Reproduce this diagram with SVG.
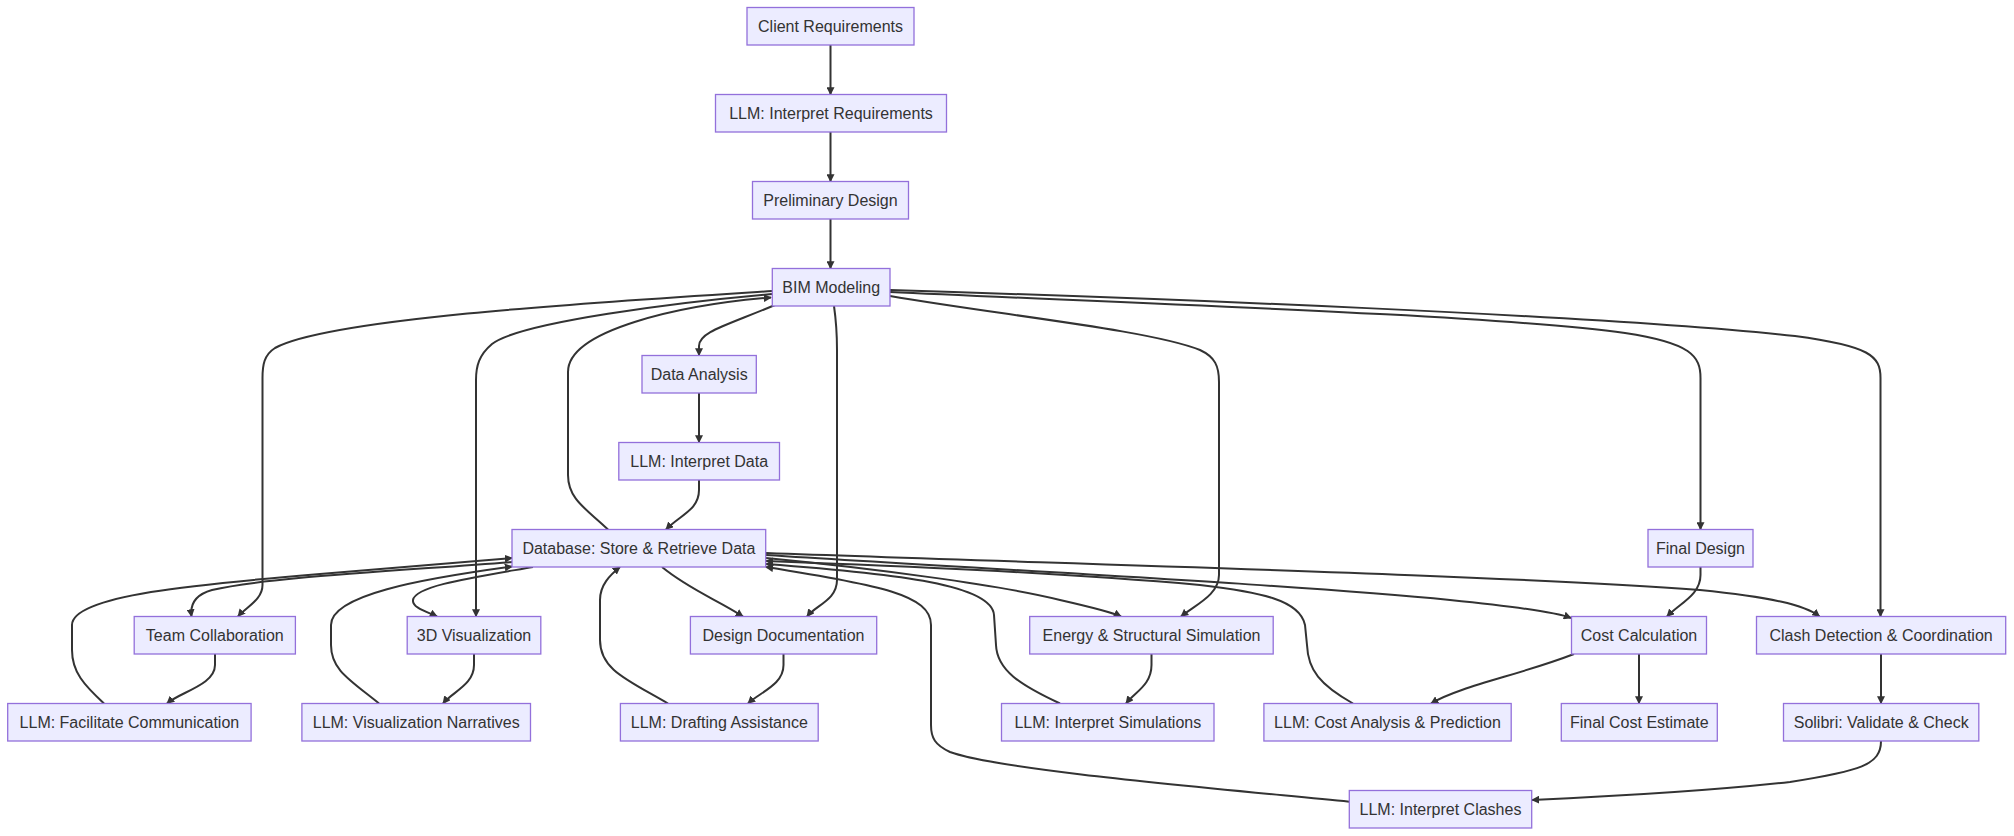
<svg xmlns="http://www.w3.org/2000/svg" width="2014" height="836" viewBox="0 0 2014 836">
<defs>
<marker id="arr" viewBox="0 0 10 10" refX="9" refY="5" markerUnits="userSpaceOnUse" markerWidth="8" markerHeight="8" orient="auto">
<path d="M0,0 L10,5 L0,10 z" fill="#333"/>
</marker>
<style>
.n rect{fill:#ECECFF;stroke:#9370DB;stroke-width:1.3}
.n text{font-family:"Liberation Sans",Arial,sans-serif;font-size:16px;fill:#333;text-anchor:middle;dominant-baseline:central}
.e path{fill:none;stroke:#333;stroke-width:2;marker-end:url(#arr)}
</style>
</defs>
<rect width="2014" height="836" fill="#ffffff"/>
<g id="edges" class="e">
<path d="M830.5,45 L830.5,94.5"/>
<path d="M830.5,132 L830.5,181.5"/>
<path d="M830.5,219 L830.5,268.5"/>
<path d="M775,305 C725,326 699,332 699,346 L699,355.5"/>
<path d="M699,393 L699,442.5"/>
<path d="M699,480 L699,490 C699,510 680,515 666,529.5"/>
<path d="M772,291 C600,302 330,318 275,348 C264,355 262.5,365 262.5,378 L262.5,585 C262.5,600 246,607 238,616.5"/>
<path d="M772,294 C680,302 520,322 492,344 C479,355 476,366 476,380 L476,616.5"/>
<path d="M608,529.5 C588,510 568,500 568,475 L568,372 C568,330 680,305 771,297.5"/>
<path d="M834,306 C836,320 837,332 837,350 L837,580 C837,600 816,605 807,616.5"/>
<path d="M890,296 C1000,315 1150,330 1200,350 C1215,357 1219,366 1219,382 L1219,575 C1219,595 1195,605 1181,616.5"/>
<path d="M890,292 C1100,302 1500,315 1625,333 C1691,343 1700.5,356 1700.5,378 L1700.5,529.5"/>
<path d="M890,290 C1150,298 1600,315 1795,336 C1870,346 1880.5,356 1880.5,378 L1880.5,616.5"/>
<path d="M1700.5,567 L1700.5,575 C1700.5,595 1680,603 1667,616.5"/>
<path d="M512,562 C380,572 262,578 212,590 C194,595 190,605 191.5,616.5"/>
<path d="M104,703.5 C84,685 72,672 72,650 L72,625 C72,595 200,584 320,574 C420,566 480,561 512,558"/>
<path d="M215,654 L215,665 C215,685 180,692 167,703.5"/>
<path d="M533,567 C470,578 415,586 413,600 C412,608 428,612 437,616.5"/>
<path d="M474,654 L474,665 C474,685 452,692 443,703.5"/>
<path d="M379,703.5 C350,680 331,670 331,645 L331,625 C331,595 420,579 512,566.5"/>
<path d="M662,567 C690,590 718,600 743,616.5"/>
<path d="M783.5,654 L783.5,665 C783.5,685 760,692 748,703.5"/>
<path d="M668,703.5 C628,680 600,670 600,640 L600,600 C600,585 610,575 620,567"/>
<path d="M766,558 C870,568 1000,585 1060,600 C1095,608 1112,612 1121,616.5"/>
<path d="M1151.5,654 L1151.5,665 C1151.5,685 1135,692 1126,703.5"/>
<path d="M1060,703.5 C1020,685 997,670 996,645 L994,615 C992,585 900,574 766,564"/>
<path d="M766,555 C1000,570 1300,585 1450,600 C1520,607 1555,612 1571,618"/>
<path d="M1574,654 C1520,675 1460,686 1431,703.5"/>
<path d="M1639,654 L1639,703.5"/>
<path d="M1353,703.5 C1320,685 1308,670 1307,645 L1305,625 C1300,600 1260,592 1200,585 C1050,572 900,566 766,561"/>
<path d="M766,553 C1100,565 1500,575 1700,590 C1770,597 1805,605 1819.5,616.5"/>
<path d="M1881,654 L1881,703.5"/>
<path d="M1881,741 C1881,765 1860,771 1790,782 C1700,792 1600,797 1532,800"/>
<path d="M1349.4,801.7 C1200,787 1000,770 950,752 C935,745 931,738 931,725 L931,625 C931,595 880,585 766,567"/>
</g>
<g id="n_client" class="n"><rect x="747" y="7.5" width="167" height="37.5"/><text x="830.5" y="26.25">Client Requirements</text></g>
<g id="n_llm_req" class="n"><rect x="715.5" y="94.5" width="231" height="37.5"/><text x="831" y="113.25">LLM: Interpret Requirements</text></g>
<g id="n_prelim" class="n"><rect x="752.5" y="181.5" width="156" height="37.5"/><text x="830.5" y="200.25">Preliminary Design</text></g>
<g id="n_bim" class="n"><rect x="772.3" y="268.5" width="117.7" height="37.5"/><text x="831.2" y="287.25">BIM Modeling</text></g>
<g id="n_data" class="n"><rect x="642" y="355.5" width="114.3" height="37.5"/><text x="699.2" y="374.25">Data Analysis</text></g>
<g id="n_llm_data" class="n"><rect x="618.8" y="442.5" width="160.7" height="37.5"/><text x="699.2" y="461.25">LLM: Interpret Data</text></g>
<g id="n_db" class="n"><rect x="512" y="529.5" width="253.7" height="37.5"/><text x="638.9" y="548.25">Database: Store &amp; Retrieve Data</text></g>
<g id="n_final_design" class="n"><rect x="1648" y="529.5" width="105" height="37.5"/><text x="1700.5" y="548.25">Final Design</text></g>
<g id="n_team" class="n"><rect x="134.2" y="616.5" width="161.2" height="37.5"/><text x="214.8" y="635.25">Team Collaboration</text></g>
<g id="n_3d" class="n"><rect x="407.2" y="616.5" width="133.6" height="37.5"/><text x="474" y="635.25">3D Visualization</text></g>
<g id="n_doc" class="n"><rect x="690.4" y="616.5" width="186.3" height="37.5"/><text x="783.5" y="635.25">Design Documentation</text></g>
<g id="n_energy" class="n"><rect x="1029.7" y="616.5" width="243.5" height="37.5"/><text x="1151.5" y="635.25">Energy &amp; Structural Simulation</text></g>
<g id="n_cost" class="n"><rect x="1571.5" y="616.5" width="135" height="37.5"/><text x="1639" y="635.25">Cost Calculation</text></g>
<g id="n_clash" class="n"><rect x="1756.5" y="616.5" width="249.2" height="37.5"/><text x="1881.1" y="635.25">Clash Detection &amp; Coordination</text></g>
<g id="n_llm_comm" class="n"><rect x="7.7" y="703.5" width="243.4" height="37.5"/><text x="129.4" y="722.25">LLM: Facilitate Communication</text></g>
<g id="n_llm_vis" class="n"><rect x="301.9" y="703.5" width="228.6" height="37.5"/><text x="416.2" y="722.25">LLM: Visualization Narratives</text></g>
<g id="n_llm_draft" class="n"><rect x="620.4" y="703.5" width="197.8" height="37.5"/><text x="719.3" y="722.25">LLM: Drafting Assistance</text></g>
<g id="n_llm_sim" class="n"><rect x="1001.5" y="703.5" width="212.5" height="37.5"/><text x="1107.8" y="722.25">LLM: Interpret Simulations</text></g>
<g id="n_llm_cost" class="n"><rect x="1263.9" y="703.5" width="247.3" height="37.5"/><text x="1387.5" y="722.25">LLM: Cost Analysis &amp; Prediction</text></g>
<g id="n_final_cost" class="n"><rect x="1561.3" y="703.5" width="156" height="37.5"/><text x="1639.3" y="722.25">Final Cost Estimate</text></g>
<g id="n_solibri" class="n"><rect x="1783.5" y="703.5" width="195.3" height="37.5"/><text x="1881.2" y="722.25">Solibri: Validate &amp; Check</text></g>
<g id="n_llm_clash" class="n"><rect x="1349.3" y="790.5" width="182.4" height="37.5"/><text x="1440.5" y="809.25">LLM: Interpret Clashes</text></g>
</svg>
